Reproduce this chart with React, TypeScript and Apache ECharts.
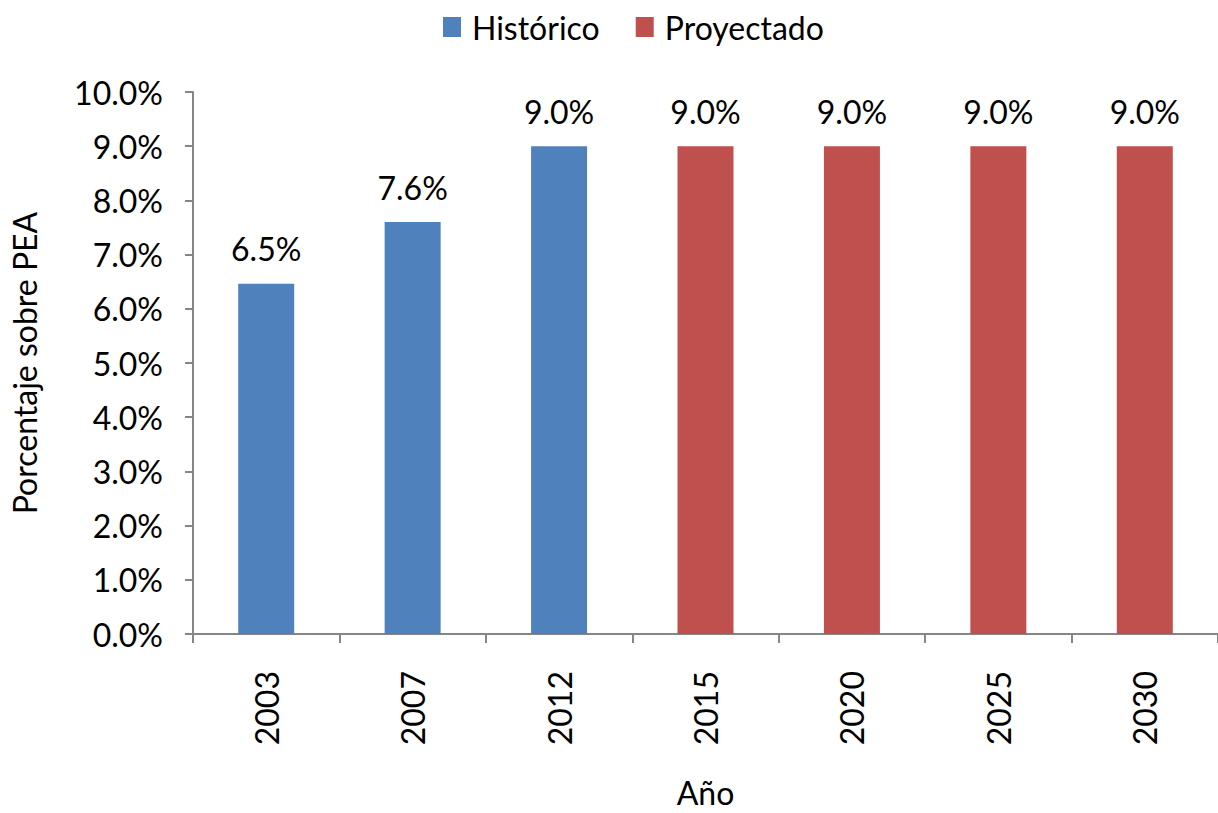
import React, { useEffect, useRef } from "react";
import * as echarts from "echarts";

const categories = ["2003", "2007", "2012", "2015", "2020", "2025", "2030"];
const historico: (number | null)[] = [6.46, 7.6, 9.0, null, null, null, null];
const proyectado: (number | null)[] = [null, null, null, 9.0, 9.0, 9.0, 9.0];
const seriesNames = ["Histórico", "Proyectado"];
const yMin = 0;
const yMax = 10;
const yInterval = 1;

const FONT = "Lato";
const FS = 32;

export default function App() {
  const ref = useRef<HTMLDivElement>(null);
  useEffect(() => {
    if (!ref.current) return;
    const chart = echarts.init(ref.current, undefined, { renderer: "svg" });
    const label = {
      show: true,
      position: "top" as const,
      distance: 19,
      fontFamily: FONT,
      fontSize: FS,
      color: "#000",
      formatter: (p: any) => (p.value == null ? "" : Number(p.value).toFixed(1) + "%"),
    };
    chart.setOption({
      animation: false,
      textStyle: { fontFamily: FONT },
      legend: {
        top: 6,
        left: 438,
        itemWidth: 18,
        itemHeight: 20,
        itemGap: 36,
        icon: "rect",
        textStyle: { fontFamily: FONT, fontSize: FS, color: "#000", padding: [0, 0, 0, 6] },
        data: seriesNames,
      },
      grid: { left: 191, right: -8, top: 92, bottom: 170, containLabel: false },
      xAxis: {
        type: "category",
        data: categories,
        name: "Año",
        nameLocation: "middle",
        nameGap: 142,
        nameTextStyle: { fontFamily: FONT, fontSize: FS, color: "#000" },
        axisLine: { lineStyle: { color: "#868686", width: 2 } },
        axisTick: { show: true, length: 9, lineStyle: { color: "#868686", width: 2 } },
        axisLabel: { rotate: 90, margin: 37, fontFamily: FONT, fontSize: FS, color: "#000" },
      },
      yAxis: {
        type: "value",
        min: yMin,
        max: yMax,
        interval: yInterval,
        name: "Porcentaje sobre PEA",
        nameLocation: "middle",
        nameGap: 153,
        nameTextStyle: { fontFamily: FONT, fontSize: FS, color: "#000" },
        splitLine: { show: false },
        axisLine: { show: true, lineStyle: { color: "#868686", width: 2 } },
        axisTick: { show: true, length: 8, lineStyle: { color: "#868686", width: 2 } },
        axisLabel: {
          margin: 30,
          fontFamily: FONT,
          fontSize: FS,
          color: "#000",
          padding: [6, 0, 0, 0],
          formatter: (v: number) => v.toFixed(1) + "%",
        },
      },
      series: [
        {
          name: seriesNames[0],
          type: "bar",
          data: historico,
          barWidth: 56,
          barGap: "-100%",
          itemStyle: { color: "#4F81BD" },
          label,
        },
        {
          name: seriesNames[1],
          type: "bar",
          data: proyectado,
          barWidth: 56,
          barGap: "-100%",
          itemStyle: { color: "#C0504D" },
          label,
        },
      ],
    });
    return () => chart.dispose();
  }, []);
  return (
    <div
      ref={ref}
      style={{ position: "fixed", left: 0, top: 0, width: 1218, height: 813, background: "#fff" }}
    />
  );
}
